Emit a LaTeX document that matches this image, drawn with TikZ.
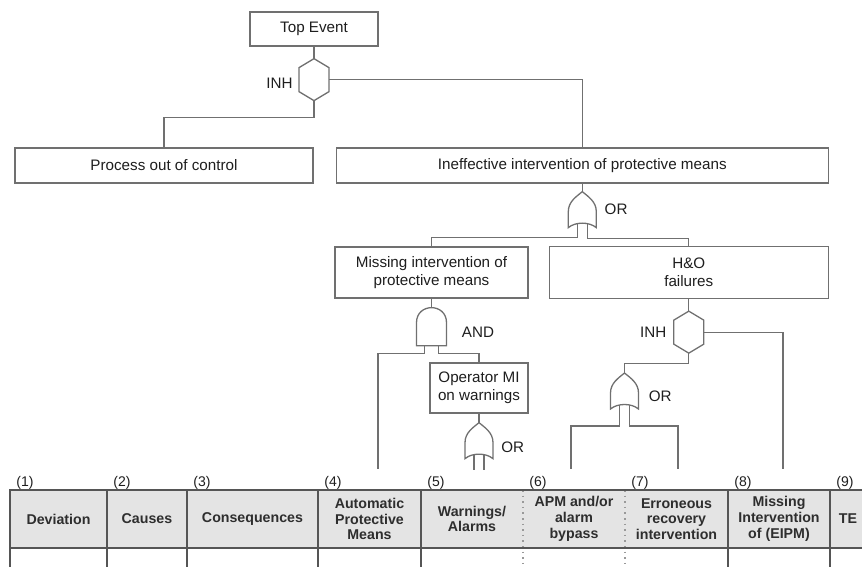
\documentclass[tikz,border=0pt]{standalone}
\usepackage{fontspec}
\setmainfont{Liberation Sans}
\usepackage{tikz}
\usetikzlibrary{positioning,calc}
\definecolor{WireGray}{HTML}{707070}
\definecolor{GridGray}{HTML}{555555}
\definecolor{HeadFill}{HTML}{E4E4E4}
\definecolor{InkDark}{HTML}{1E1E1E}
\newcommand\treefont{\fontsize{7.6pt}{8.85pt}\selectfont}
\newcommand\headfont{\fontsize{7.1pt}{7.9pt}\selectfont\bfseries}

\begin{document}
\begin{tikzpicture}[
  x=0.5pt, y=-0.5pt,
  wire/.style={draw=WireGray, line width=0.65pt},
  event/.style={draw=WireGray, line width=0.65pt, fill=white, align=center,
    inner sep=0pt, text=InkDark, font=\treefont},
  gatelabel/.style={inner sep=0pt, text=InkDark, font=\treefont},
  gate/.style={inner sep=0pt, outer sep=0pt},
  orgate/.style={gate, minimum width=14pt, minimum height=18pt,
    append after command={\pgfextra{\draw[wire, shift={(\tikzlastnode.center)}]
      (-14,18) -- (-14,2) .. controls (-14,-8) and (-6,-13) .. (0,-18)
      .. controls (6,-13) and (14,-8) .. (14,2) -- (14,18)
      .. controls (7,12) and (-7,12) .. cycle;}}},
  andgate/.style={gate, minimum width=15pt, minimum height=19pt,
    append after command={\pgfextra{\draw[wire, shift={(\tikzlastnode.center)}]
      (-15,19) -- (-15,-4) .. controls (-15,-24) and (15,-24) .. (15,-4)
      -- (15,19) -- cycle;}}},
  inhgate/.style={gate, minimum width=15pt, minimum height=21pt,
    append after command={\pgfextra{\draw[wire, shift={(\tikzlastnode.center)}]
      (0,-21) -- (15,-12) -- (15,12) -- (0,21) -- (-15,12) -- (-15,-12) -- cycle;}}},
  headcell/.style={align=center, inner sep=0pt, text=black!82, font=\headfont},
  colnum/.style={inner sep=0pt, text=InkDark, font=\fontsize{7pt}{8pt}\selectfont},
  grid/.style={draw=GridGray, line width=1pt},
  gridsoft/.style={draw=black!40, line width=0.8pt, dotted}
]
\useasboundingbox (0,0) rectangle (862,567);
\clip (0,0) rectangle (862,567);

% events
\node[event, minimum width=64pt, minimum height=17pt] (top) at (314,29) {Top Event};
\node[event, minimum width=149pt, minimum height=17.5pt] (proc) at (164,165.5) {Process out of control};
\node[event, minimum width=246pt, minimum height=17.5pt, right=11pt of proc] (ineff) {Ineffective intervention of protective means};
\node[event, minimum width=96.5pt, minimum height=25.5pt] (miss) at (431.5,272.5) {Missing intervention of\\protective means};
\node[event, minimum width=139.5pt, minimum height=26pt, right=10pt of miss] (hao) {H\&O\\failures};
\node[event, minimum width=49pt, minimum height=25pt] (opmi) at (479,388) {Operator MI\\on warnings};

% gates
\node[inhgate, below=6pt of top] (inh1) {};
\node[orgate, below=4pt of ineff] (or1) {};
\node[andgate, below=4.5pt of miss] (and1) {};
\node[orgate, below=4.5pt of opmi] (opor) {};
\node[inhgate, below=6pt of hao] (inh2) {};
\node[orgate] (or2) at (624.5,391) {};

\node[gatelabel, left=3pt of inh1, yshift=-2pt] (lblinh1) {INH};
\node[gatelabel, right=4pt of or1] (lblor1) {OR};
\node[gatelabel, right=7.5pt of and1, yshift=-3pt] (lbland1) {AND};
\node[gatelabel, right=4pt of opor, yshift=-3.5pt] (lblopor) {OR};
\node[gatelabel, left=3.5pt of inh2] (lblinh2) {INH};
\node[gatelabel, right=5pt of or2, yshift=-2.5pt] (lblor2) {OR};

% free ends above the table
\coordinate (endapm) at (378,469);
\coordinate (endwarnA) at ($(opor.center)+(-5,29)$);
\coordinate (endwarnB) at ($(opor.center)+(5,29)$);
\coordinate (endbyp) at (571,469);
\coordinate (enderr) at (678,469);
\coordinate (endmis) at (783,469);

% connectors
\draw[wire] (top) -- (inh1);
\draw[wire] (inh1.east) -| (ineff.north);
\draw[wire] (inh1.south) -- ++(0,17) -| (proc.north);
\draw[wire] (ineff) -- (or1);
\draw[wire] ($(or1.center)+(-5,14)$) -- ++(0,14) -| (miss.north);
\draw[wire] ($(or1.center)+(5,14)$) -- ++(0,15) -| (hao.north);
\draw[wire] (miss) -- (and1);
\draw[wire] ($(and1.south)+(-7,0)$) -- ++(0,8) -| (endapm);
\draw[wire] ($(and1.south)+(7,0)$) -- ++(0,8) -| (opmi.north);
\draw[wire] (opmi) -- (opor);
\draw[wire] ($(opor.center)+(-5,14)$) -- (endwarnA);
\draw[wire] ($(opor.center)+(5,14)$) -- (endwarnB);
\draw[wire] (hao) -- (inh2);
\draw[wire] (inh2.east) -| (endmis);
\draw[wire] (inh2.south) -- ++(0,10) -| (or2.north);
\draw[wire] ($(or2.center)+(-5,14)$) -- ++(0,21) -| (endbyp);
\draw[wire] ($(or2.center)+(5,14)$) -- ++(0,21) -| (enderr);

% table
\fill[HeadFill] (10,490) rectangle (880,548);
\foreach \n/\xl/\xr/\txt in {1/10/107/Deviation, 2/107/187/Causes, 3/187/318/Consequences,
    4/318/421/{Automatic\\Protective\\Means}, 5/421/523/{Warnings/\\Alarms},
    6/523/625/{APM and/or\\alarm\\bypass}, 7/625/728/{Erroneous\\recovery\\intervention},
    8/728/830/{Missing\\Intervention\\of (EIPM)}, 9/830/866/TE}{
  \node[headcell] (col\n) at ({(\xl+\xr)/2},519) {\txt};
  \node[colnum, anchor=base west] (num\n) at (\xl+6,486) {(\n)};
}
\foreach \xv in {107,187,318,421,728}
  \draw[grid] (\xv,490) -- (\xv,580);
\foreach \xv in {523,625}
  \draw[gridsoft] (\xv,490) -- (\xv,580);
\draw[grid, line width=1.3pt] (830,490) -- (830,580);
\draw[grid] (10,580) -- (10,490) -- (880,490);
\draw[grid] (10,548) -- (880,548);
\end{tikzpicture}
\end{document}
